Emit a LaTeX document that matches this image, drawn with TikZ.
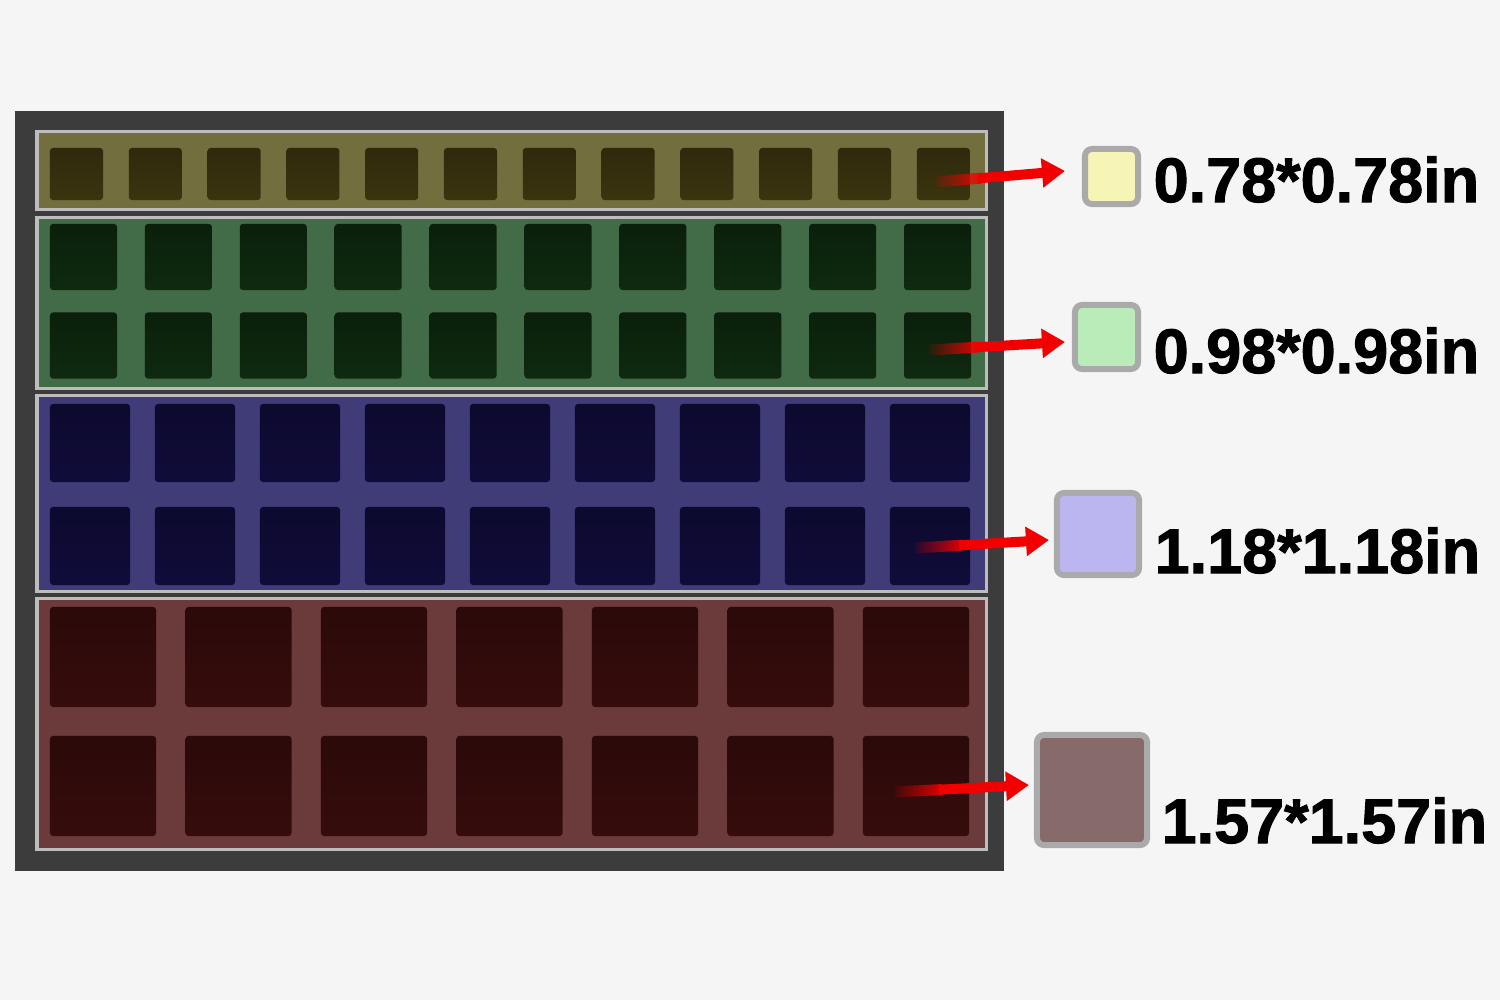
\documentclass[tikz,border=0pt]{standalone}
\usepackage{fontspec}
\setmainfont{Liberation Sans}
\newfontfamily\lblfont{Liberation Sans}[BoldFeatures={FakeBold=1.6}]
\usetikzlibrary{arrows.meta,fadings,calc}
\definecolor{bgc}{HTML}{F5F5F5}
\definecolor{framec}{HTML}{3C3C3C}
\definecolor{bordc}{HTML}{BDBDBD}
\definecolor{bandA}{HTML}{726E3E}
\definecolor{cellA}{HTML}{3A340F}
\definecolor{bandB}{HTML}{426B47}
\definecolor{cellB}{HTML}{0E2A0F}
\definecolor{bandC}{HTML}{403C78}
\definecolor{cellC}{HTML}{100C3A}
\definecolor{bandD}{HTML}{6B3A3A}
\definecolor{cellD}{HTML}{360C0C}
\definecolor{swA}{HTML}{F7F5B5}
\definecolor{swB}{HTML}{B9ECB8}
\definecolor{swC}{HTML}{BCB6F0}
\definecolor{swD}{HTML}{876B6B}
\definecolor{swbord}{HTML}{AAAAAA}
\definecolor{arrred}{HTML}{F20000}
\tikzfading[name=tailfade, left color=transparent!100, right color=transparent!0]
\tikzset{
  band/.style={draw=bordc, line width=0.03cm},
  cell/.style={rectangle, inner sep=0pt, rounded corners=0.03cm, draw=none},
  swatch/.style={rectangle, inner sep=0pt, draw=swbord, line width=0.06cm, rounded corners=0.07cm},
  dimlabel/.style={anchor=base west, inner sep=0pt, font=\lblfont\fontsize{17.9}{20}\selectfont\bfseries},
  pointer/.style={draw=arrred, line width=0.1cm, -{Triangle[length=0.23cm, width=0.28cm]}},
  pointertail/.style={draw=arrred, line width=0.11cm, path fading=tailfade}
}
\begin{document}
\begin{tikzpicture}[x=0.01cm, y=-0.01cm]
\fill[bgc] (0,0) rectangle (1500,1000);
\useasboundingbox (0,0) rectangle (1500,1000);
\fill[framec] (15,111) rectangle (1004,871);
% bands
\filldraw[band, fill=bandA] (37,131) rectangle (986,209);
\filldraw[band, fill=bandB] (37,217) rectangle (986,388);
\filldraw[band, fill=bandC] (37,395) rectangle (986,591);
\filldraw[band, fill=bandD] (37,598) rectangle (986,849);
% cells band A: 12 x 1
\foreach \i in {0,...,11}
  \node[cell, top color=cellA!80!black, bottom color=cellA, minimum width=0.53cm, minimum height=0.52cm] (a\i) at ({76.5+\i*78.8},174) {};
% cells band B: 10 x 2
\foreach \i in {0,...,9}{
  \node[cell, top color=cellB!75!black, bottom color=cellB, minimum width=0.67cm, minimum height=0.66cm] (bt\i) at ({83.5+\i*94.9},257) {};
  \node[cell, top color=cellB!75!black, bottom color=cellB, minimum width=0.67cm, minimum height=0.66cm] (bb\i) at ({83.5+\i*94.9},345.5) {};
}
% cells band C: 9 x 2
\foreach \i in {0,...,8}{
  \node[cell, top color=cellC!80!black, bottom color=cellC, minimum width=0.80cm, minimum height=0.78cm] (ct\i) at ({90+\i*105},443) {};
  \node[cell, top color=cellC!80!black, bottom color=cellC, minimum width=0.80cm, minimum height=0.78cm] (cb\i) at ({90+\i*105},546) {};
}
% cells band D: 7 x 2
\foreach \i in {0,...,6}{
  \node[cell, top color=cellD!80!black, bottom color=cellD, minimum width=1.06cm, minimum height=1.00cm] (dt\i) at ({103+\i*135.5},657) {};
  \node[cell, top color=cellD!80!black, bottom color=cellD, minimum width=1.06cm, minimum height=1.00cm] (db\i) at ({103+\i*135.5},786) {};
}
% swatches
\node[swatch, fill=swA, minimum width=0.53cm, minimum height=0.55cm] (s1) at (1111.5,176.5) {};
\node[swatch, fill=swB, minimum width=0.63cm, minimum height=0.64cm] (s2) at (1106.5,337) {};
\node[swatch, fill=swC, minimum width=0.82cm, minimum height=0.82cm] (s3) at (1098,534) {};
\node[swatch, fill=swD, minimum width=1.10cm, minimum height=1.10cm] (s4) at (1092,790) {};
% labels
\node[dimlabel] (t1) at (1153,202) {0.78*0.78in};
\node[dimlabel] (t2) at (1153,373) {0.98*0.98in};
\node[dimlabel] (t3) at (1154,573) {1.18*1.18in};
\node[dimlabel] (t4) at (1161,843) {1.57*1.57in};
% arrows: faded tail inside the cell, solid shaft and head outside
\coordinate (p1s) at ([shift={(-8,8)}]a11.center);
\coordinate (p1e) at ([shift={(-17,-5.5)}]s1.west);
\coordinate (p1m) at ($(p1s)!0.35!(p1e)$);
\draw[pointertail] (p1s) -- (p1m);
\draw[pointer] ($(p1s)!0.33!(p1e)$) -- (p1e);
\coordinate (p2s) at ([shift={(-8,4.5)}]bb9.center);
\coordinate (p2e) at ([shift={(-7,5)}]s2.west);
\coordinate (p2m) at ($(p2s)!0.35!(p2e)$);
\draw[pointertail] (p2s) -- (p2m);
\draw[pointer] ($(p2s)!0.33!(p2e)$) -- (p2e);
\coordinate (p3s) at ([shift={(-15,2)}]cb8.center);
\coordinate (p3e) at ([shift={(-5,6)}]s3.west);
\coordinate (p3m) at ($(p3s)!0.35!(p3e)$);
\draw[pointertail] (p3s) -- (p3m);
\draw[pointer] ($(p3s)!0.33!(p3e)$) -- (p3e);
\coordinate (p4s) at ([shift={(-21,6)}]db6.center);
\coordinate (p4e) at ([shift={(-5,-5)}]s4.west);
\coordinate (p4m) at ($(p4s)!0.35!(p4e)$);
\draw[pointertail] (p4s) -- (p4m);
\draw[pointer] ($(p4s)!0.33!(p4e)$) -- (p4e);
\end{tikzpicture}
\end{document}
